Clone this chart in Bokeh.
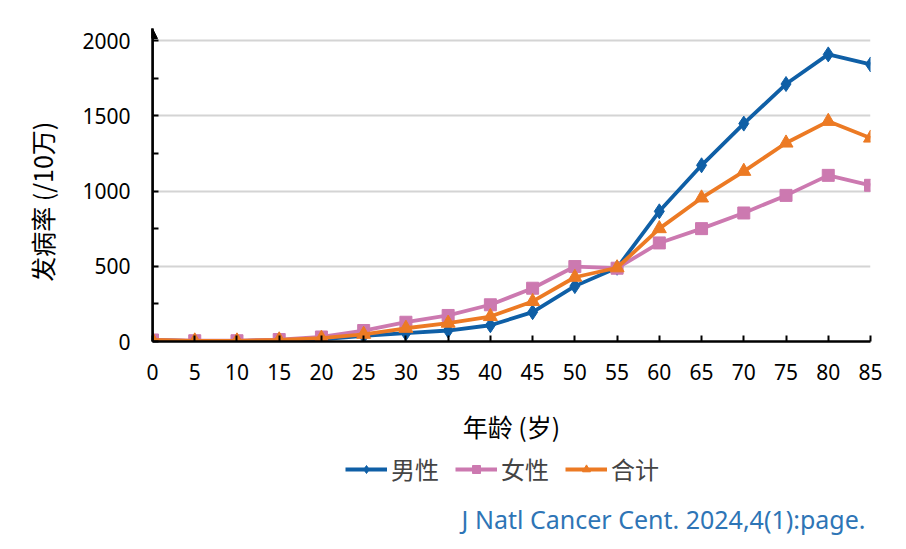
import numpy as np
from bokeh.plotting import figure
from bokeh.layouts import column
from bokeh.models import (Range1d, Legend, LegendItem, Label, Arrow, NormalHead,
                          FixedTicker, LinearAxis)
from bokeh.embed import file_html
from bokeh.resources import INLINE

ages = [0, 5, 10, 15, 20, 25, 30, 35, 40, 45, 50, 55, 60, 65, 70, 75, 80, 85]
male = [10, 3, 3, 8, 14, 38, 55, 73, 108, 195, 368, 490, 865, 1171, 1448, 1711, 1908, 1841]
female = [10, 5, 5, 13, 30, 73, 128, 173, 244, 354, 498, 487, 655, 750, 854, 971, 1104, 1038]
total = [10, 4, 4, 11, 22, 48, 88, 122, 166, 266, 427, 490, 750, 954, 1131, 1319, 1463, 1352]
y_ticks = [0, 500, 1000, 1500, 2000]
series_names = ["男性", "女性", "合计"]
x_title = "年龄 (岁)"
y_title = "发病率 (/10万)"
source_text = "J Natl Cancer Cent. 2024,4(1):page."

CJK = "Noto Sans CJK SC"
NUM = "Noto Sans"
BLUE = "#0F5FA6"
PINK = "#CC79B0"
ORANGE = "#EC7A24"
colors = [BLUE, PINK, ORANGE]
markers = ["diamond", "square", "triangle"]
msizes = [15, 12, 14]
series = [male, female, total]

p = figure(width=898, height=450, x_range=Range1d(0, 85), y_range=Range1d(0, 2080),
           output_backend="svg", toolbar_location=None,
           min_border_left=152, min_border_right=28, min_border_top=28, min_border_bottom=109)
p.outline_line_color = None
p.background_fill_color = "white"

# axes
p.xaxis.ticker = FixedTicker(ticks=ages)
p.yaxis.ticker = FixedTicker(ticks=y_ticks, minor_ticks=[250, 750, 1250, 1750])
for ax in (p.xaxis, p.yaxis):
    ax.axis_line_color = "black"
    ax.axis_line_width = 2.5
    ax.major_tick_line_color = "black"
    ax.major_tick_line_width = 2
    ax.major_tick_in = 6
    ax.major_tick_out = 0
    ax.major_label_text_font = NUM
    ax.major_label_text_font_size = "21px"
    ax.major_label_text_color = "black"
p.xaxis.minor_tick_line_color = None
p.yaxis.minor_tick_line_color = "black"
p.yaxis.minor_tick_line_width = 2
p.yaxis.minor_tick_in = 6
p.yaxis.minor_tick_out = 0
p.xaxis.major_label_standoff = 22
p.yaxis.major_label_standoff = 22
p.xaxis.axis_label = x_title
p.xaxis.axis_label_text_font = CJK
p.xaxis.axis_label_text_font_size = "25px"
p.xaxis.axis_label_text_font_style = "normal"
p.xaxis.axis_label_text_color = "black"
p.xaxis.axis_label_standoff = 25

# label-only axis for the y title (trailing no-break spaces shift it down a little)
lab_axis = LinearAxis(axis_label=y_title + "\u00a0" * 6, ticker=FixedTicker(ticks=[]),
                      axis_line_color=None, major_tick_line_color=None,
                      minor_tick_line_color=None, major_label_text_font_size="0px",
                      axis_label_text_font=CJK, axis_label_text_font_size="25px",
                      axis_label_text_font_style="normal", axis_label_text_color="black",
                      axis_label_standoff=20)
p.add_layout(lab_axis, "left")

p.xgrid.grid_line_color = None
p.ygrid.ticker = FixedTicker(ticks=y_ticks[1:])
p.ygrid.grid_line_color = "#d4d4d4"
p.ygrid.grid_line_width = 2

# arrow head on y-axis
p.add_layout(Arrow(end=NormalHead(size=10, fill_color="black", line_color="black"),
                   x_start=0, y_start=0, x_end=0, y_end=2080,
                   line_color="black", line_width=2.5))

lw = 3.8
for vals, c, m, s in zip(series, colors, markers, msizes):
    p.line(ages, vals, line_color=c, line_width=lw)
    p.scatter(ages, vals, marker=m, size=s, fill_color=c, line_color=c)

# second panel: legend + source note
p2 = figure(width=898, height=99, x_range=Range1d(0, 718), y_range=Range1d(0, 99),
            output_backend="svg", toolbar_location=None,
            x_axis_type=None, y_axis_type=None,
            min_border_left=0, min_border_right=0, min_border_top=0, min_border_bottom=0)
p2.outline_line_color = None
p2.xgrid.grid_line_color = None
p2.ygrid.grid_line_color = None

nan = np.array([np.nan])
items = []
for name, c, m in zip(series_names, colors, markers):
    rl = p2.line(x=nan, y=nan, line_color=c, line_width=lw)
    rm = p2.scatter(x=nan, y=nan, marker=m, size=12, fill_color=c, line_color=c)
    items.append(LegendItem(label=name, renderers=[rl, rm]))

legend = Legend(items=items, orientation="horizontal", location=(193, 63),
                label_text_font=CJK, label_text_font_size="24px",
                glyph_width=42, glyph_height=20, spacing=16, label_standoff=4,
                border_line_color=None, background_fill_alpha=0, margin=0, padding=0)
p2.add_layout(legend, "center")

p2.add_layout(Label(x=713, y=31, text=source_text,
                    text_align="right", text_baseline="middle", text_font=NUM,
                    text_font_size="25px", text_color="#2E75B6"))

layout = column(p, p2, spacing=0)
open("out.html", "w").write(file_html(layout, INLINE))
